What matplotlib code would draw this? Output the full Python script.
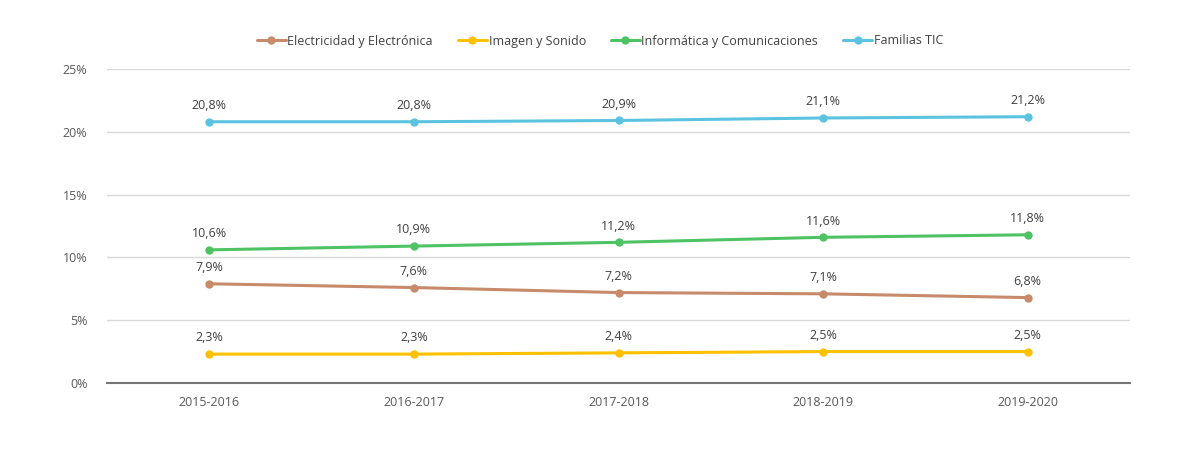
import matplotlib
matplotlib.use("Agg")
import matplotlib.pyplot as plt
from matplotlib.ticker import FuncFormatter

categories = ["2015-2016", "2016-2017", "2017-2018", "2018-2019", "2019-2020"]
electricidad = [7.9, 7.6, 7.2, 7.1, 6.8]
imagen = [2.3, 2.3, 2.4, 2.5, 2.5]
informatica = [10.6, 10.9, 11.2, 11.6, 11.8]
familias = [20.8, 20.8, 20.9, 21.1, 21.2]
series_names = ["Electricidad y Electrónica", "Imagen y Sonido",
                "Informática y Comunicaciones", "Familias TIC"]
colors = ["#C78A6A", "#FFC000", "#4EC363", "#5BC3E0"]

plt.rcParams['font.family'] = ['Open Sans', 'DejaVu Sans']

fig = plt.figure(figsize=(11.8, 4.68), dpi=100)
ax = fig.add_axes([107/1180, 85/468, 1023/1180, 314/468])

x = list(range(len(categories)))
for vals, name, c in zip([electricidad, imagen, informatica, familias], series_names, colors):
    ax.plot(x, vals, color=c, lw=2.2, marker='o', ms=5, label=name, solid_capstyle='round')
    for xi, v in zip(x, vals):
        ax.annotate(f"{v:.1f}%".replace('.', ','), (xi, v), xytext=(0, 7),
                    textcoords='offset points', ha='center', va='bottom',
                    fontsize=9, color='#404040')

ax.set_xlim(-0.5, len(categories) - 0.5)
ax.set_ylim(0, 25)
ax.set_yticks([0, 5, 10, 15, 20, 25])
ax.yaxis.set_major_formatter(FuncFormatter(lambda v, p: f"{v:.0f}%"))
ax.set_xticks(x)
ax.set_xticklabels(categories)
ax.tick_params(axis='both', length=0, labelsize=9, colors='#595959')
ax.tick_params(axis='y', pad=14)
ax.tick_params(axis='x', pad=9)
ax.grid(axis='y', color='#D9D9D9', lw=1)
ax.set_axisbelow(True)
for s in ['top', 'right', 'left']:
    ax.spines[s].set_visible(False)
ax.spines['bottom'].set_color('#767676')
ax.spines['bottom'].set_linewidth(1.5)

fig.legend(loc='center', bbox_to_anchor=(600/1180, 1 - 41/468), ncol=4, frameon=False,
           fontsize=9, handlelength=2.3, columnspacing=2.0, handletextpad=0.15,
           labelcolor='#404040')

fig.savefig("out.png", dpi=100)
